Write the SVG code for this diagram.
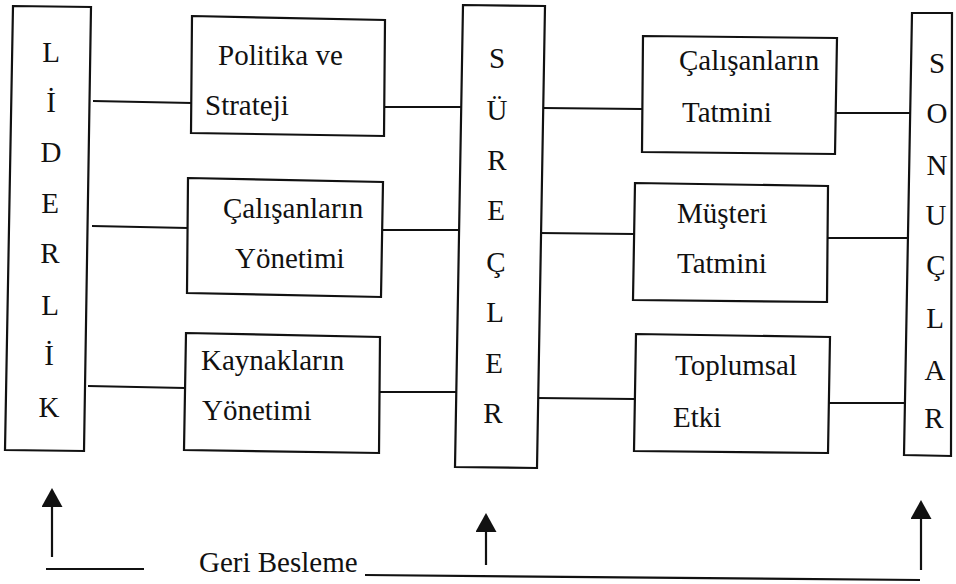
<svg xmlns="http://www.w3.org/2000/svg" width="956" height="584" viewBox="0 0 956 584">
<style>
.box{fill:#fff;stroke:#111;stroke-width:2.2}
.ln{stroke:#111;stroke-width:2.2;fill:none}
text{font-family:"Liberation Serif","Times New Roman",serif;font-size:29px;fill:#111}
.v{text-anchor:middle}
</style>
<defs>
<marker id="ah" markerUnits="userSpaceOnUse" markerWidth="19" markerHeight="21" viewBox="0 0 19 21" refX="1" refY="10.5" orient="auto">
<polygon points="0,0 19,10.5 0,21" fill="#111"/>
</marker>
</defs>
<g id="connectors">
<line class="ln" x1="93" y1="101" x2="192" y2="103"/>
<line class="ln" x1="92" y1="226" x2="188" y2="228"/>
<line class="ln" x1="88" y1="386" x2="185" y2="388"/>
<line class="ln" x1="384" y1="107" x2="462" y2="107"/>
<line class="ln" x1="382" y1="230" x2="459" y2="230"/>
<line class="ln" x1="380" y1="392" x2="456" y2="392"/>
<line class="ln" x1="543" y1="108" x2="642" y2="109"/>
<line class="ln" x1="539" y1="233" x2="634" y2="234"/>
<line class="ln" x1="537" y1="398" x2="634" y2="399"/>
<line class="ln" x1="835" y1="113" x2="912" y2="113"/>
<line class="ln" x1="828" y1="238" x2="911" y2="238"/>
<line class="ln" x1="828" y1="403" x2="906" y2="403"/>
<line class="ln" x1="52" y1="557" x2="52" y2="506" marker-end="url(#ah)"/>
<line class="ln" x1="486" y1="565" x2="486" y2="531" marker-end="url(#ah)"/>
<line class="ln" x1="921" y1="570" x2="921" y2="518" marker-end="url(#ah)"/>
<line class="ln" x1="46" y1="569" x2="144" y2="569"/>
<line class="ln" x1="365" y1="575" x2="920" y2="580"/>
</g>
<g id="liderlik">
<polygon class="box" points="13,6 91,7 84,451 5,450"/>
<text class="v" x="51" y="62">L</text>
<text class="v" x="51" y="112">İ</text>
<text class="v" x="51" y="162">D</text>
<text class="v" x="50" y="213">E</text>
<text class="v" x="50" y="263">R</text>
<text class="v" x="50" y="315">L</text>
<text class="v" x="49" y="365">İ</text>
<text class="v" x="49" y="417">K</text>
</g>
<g id="politika">
<polygon class="box" points="192,16 385,20 384,136 191,133"/>
<text x="218" y="65">Politika ve</text>
<text x="205" y="115">Strateji</text>
</g>
<g id="calisanlar-yonetimi">
<polygon class="box" points="188,178 383,182 381,297 187,293"/>
<text x="223" y="218">Çalışanların</text>
<text x="235" y="268">Yönetimi</text>
</g>
<g id="kaynaklar">
<polygon class="box" points="186,333 380,337 379,453 184,450"/>
<text x="201" y="370">Kaynakların</text>
<text x="202" y="420">Yönetimi</text>
</g>
<g id="surecler">
<polygon class="box" points="463,5 545,6 537,468 455,467"/>
<text class="v" x="497" y="68">S</text>
<text class="v" x="497" y="120">Ü</text>
<text class="v" x="497" y="170">R</text>
<text class="v" x="496" y="220">E</text>
<text class="v" x="496" y="272">Ç</text>
<text class="v" x="495" y="322">L</text>
<text class="v" x="494" y="373">E</text>
<text class="v" x="493" y="423">R</text>
</g>
<g id="calisan-tatmini">
<polygon class="box" points="643,36 837,38 835,154 642,152"/>
<text x="679" y="70">Çalışanların</text>
<text x="682" y="122">Tatmini</text>
</g>
<g id="musteri-tatmini">
<polygon class="box" points="635,183 828,186 827,302 633,300"/>
<text x="677" y="223">Müşteri</text>
<text x="677" y="273">Tatmini</text>
</g>
<g id="toplumsal-etki">
<polygon class="box" points="636,334 830,337 828,453 634,451"/>
<text x="675" y="375">Toplumsal</text>
<text x="673" y="427">Etki</text>
</g>
<g id="sonuclar">
<polygon class="box" points="912,13 952,13 951,456 904,455"/>
<text class="v" x="937" y="73">S</text>
<text class="v" x="937" y="123">O</text>
<text class="v" x="937" y="175">N</text>
<text class="v" x="936" y="225">U</text>
<text class="v" x="936" y="275">Ç</text>
<text class="v" x="935" y="328">L</text>
<text class="v" x="935" y="380">A</text>
<text class="v" x="934" y="428">R</text>
</g>
<g id="geri-besleme">
<text x="199" y="572">Geri Besleme</text>
</g>
</svg>
